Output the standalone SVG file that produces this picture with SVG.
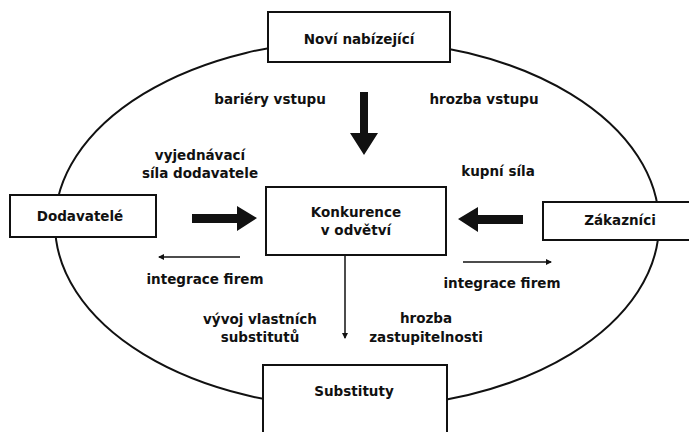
<svg xmlns="http://www.w3.org/2000/svg" width="689" height="432" viewBox="0 0 689 432">
<style>
.box{fill:#fff;stroke:#111;stroke-width:2}
.t{font-family:"DejaVu Sans",sans-serif;font-size:13.5px;fill:#111;text-anchor:middle;font-weight:bold;letter-spacing:0}
.thin{stroke:#111;stroke-width:1.5;fill:none}
</style>
<defs>
<marker id="ah" markerWidth="6" markerHeight="6" refX="5" refY="3" orient="auto" markerUnits="userSpaceOnUse"><path d="M0,0 L6,3 L0,6 z" fill="#111"/></marker>
</defs>
<rect width="689" height="432" fill="#fff"/>
<g id="connectors">
<ellipse cx="357" cy="224" rx="302" ry="184" fill="none" stroke="#111" stroke-width="2"/>
<path d="M360,92 L368,92 L368,133 L378,133 L364,155 L350,133 L360,133 z" fill="#111"/>
<path d="M192,214 L237,214 L237,206 L257,218 L237,231 L237,223 L192,223 z" fill="#111"/>
<path d="M523,215 L478,215 L478,207 L458,219 L478,232 L478,224 L523,224 z" fill="#111"/>
<line class="thin" x1="240" y1="257" x2="159" y2="257" marker-end="url(#ah)"/>
<line class="thin" x1="463" y1="262" x2="551" y2="262" marker-end="url(#ah)"/>
<line class="thin" x1="345" y1="256" x2="345" y2="338" marker-end="url(#ah)"/>
</g>
<g id="novi"><rect class="box" x="268" y="12" width="182" height="50"/><text class="t" x="359" y="44">Noví nabízející</text></g>
<g id="dodavatele"><rect class="box" x="10" y="195" width="146" height="42"/><text class="t" x="80" y="221">Dodavatelé</text></g>
<g id="konkurence"><rect class="box" x="266" y="187" width="180" height="68"/><text class="t" x="356" y="217">Konkurence</text><text class="t" x="356" y="235">v odvětví</text></g>
<g id="zakaznici"><rect class="box" x="543" y="202" width="150" height="38"/><text class="t" x="620" y="225">Zákazníci</text></g>
<g id="substituty"><rect class="box" x="263" y="365" width="184" height="75"/><text class="t" x="354" y="396">Substituty</text></g>
<g id="labels">
<text class="t" x="270" y="104">bariéry vstupu</text>
<text class="t" x="484" y="104">hrozba vstupu</text>
<text class="t" x="200" y="160">vyjednávací</text>
<text class="t" x="200" y="178">síla dodavatele</text>
<text class="t" x="498" y="176">kupní síla</text>
<text class="t" x="205" y="284">integrace firem</text>
<text class="t" x="502" y="288">integrace firem</text>
<text class="t" x="260" y="324">vývoj vlastních</text>
<text class="t" x="260" y="342">substitutů</text>
<text class="t" x="426" y="323">hrozba</text>
<text class="t" x="426" y="342">zastupitelnosti</text>
</g>
</svg>
